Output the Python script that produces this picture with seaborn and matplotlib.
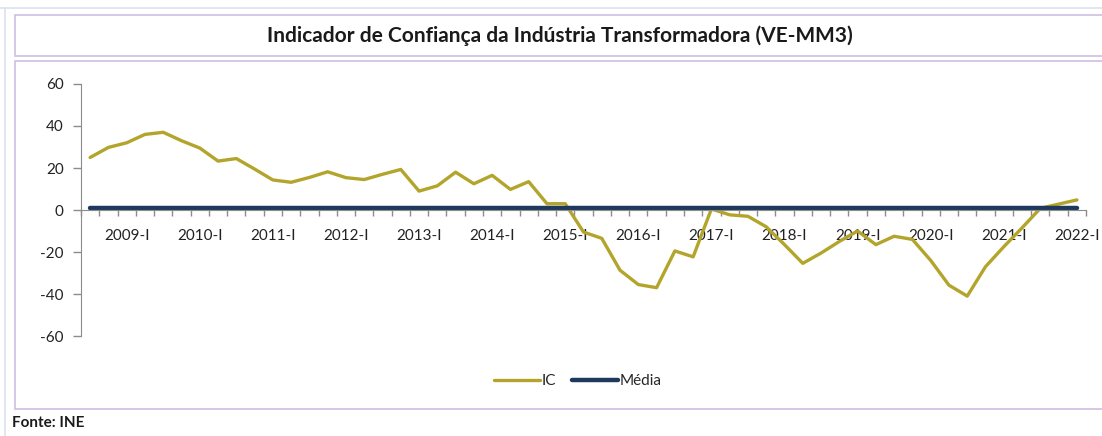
import numpy as np
import pandas as pd
import matplotlib
matplotlib.use("Agg")
import matplotlib.pyplot as plt
from matplotlib.patches import Rectangle
from matplotlib.lines import Line2D
import seaborn as sns

# quarterly series 2008-III .. 2022-I
years = list(range(2008, 2023))
roman = ["I", "II", "III", "IV"]
quarters = [f"{y}-{q}" for y in years for q in roman][2:57]

ic = [25.0, 29.8, 32.0, 36.0, 37.0, 33.0, 29.5, 23.3, 24.5, 19.5,
      14.3, 13.2, 15.5, 18.2, 15.4, 14.5, 17.0, 19.3, 9.0, 11.5,
      18.0, 12.5, 16.5, 9.8, 13.5, 3.0, 3.0, -10.5, -13.5, -28.7,
      -35.5, -37.0, -19.5, -22.3, 0.5, -2.3, -3.0, -8.0, -16.5, -25.4,
      -20.5, -15.0, -10.0, -16.5, -12.5, -14.0, -24.0, -35.8, -41.0, -27.0,
      -17.5, -8.5, 0.8, 2.8, 4.8]
media_value = 1.0

yticks = [-60, -40, -20, 0, 20, 40, 60]
labelled = [q for q in quarters if q.endswith("-I")]

title = "Indicador de Confiança da Indústria Transformadora (VE-MM3)"
source = "Fonte: INE"

IC_COLOR = "#B3A52B"
MEDIA_COLOR = "#1E395B"
BORDER = "#CDBFE0"

sns.set_style("white")
plt.rcParams["font.family"] = ["Lato", "DejaVu Sans"]

df = pd.DataFrame({
    "pos": np.arange(len(quarters)),
    "quarter": quarters,
    "IC": ic,
    "Média": [media_value] * len(quarters),
})

W, H = 1102, 436
fig = plt.figure(figsize=(W / 100, H / 100), dpi=100)

# page edges and the two framed boxes (behind the axes)
fig.add_artist(Line2D([0, 1], [1 - 8 / H, 1 - 8 / H], transform=fig.transFigure,
                      color="#DCE3EE", lw=1.2, zorder=-10))
fig.add_artist(Line2D([5 / W, 5 / W], [0, 1 - 8 / H], transform=fig.transFigure,
                      color="#DCE3EE", lw=1.2, zorder=-10))
fig.add_artist(Rectangle((15 / W, 1 - 56 / H), 1.0, 41 / H, transform=fig.transFigure,
                         facecolor="white", edgecolor=BORDER, lw=1.2, zorder=-10))
fig.add_artist(Rectangle((15 / W, 1 - 409 / H), 1.0, 348 / H, transform=fig.transFigure,
                         facecolor="white", edgecolor=BORDER, lw=1.2, zorder=-10))

fig.text(560 / W, 1 - 36 / H, title, ha="center", va="center",
         fontsize=15, fontweight="bold", color="#1a1a1a")
fig.text(12 / W, 1 - 423 / H, source, ha="left", va="center",
         fontsize=11, fontweight="bold", color="#1a1a1a")

ax = fig.add_axes([81 / W, 100 / H, (1086 - 81) / W, 252 / H])
ax.set_facecolor("none")

sns.lineplot(data=df, x="pos", y="IC", ax=ax, color=IC_COLOR, lw=2.4, label="IC")
sns.lineplot(data=df, x="pos", y="Média", ax=ax, color=MEDIA_COLOR, lw=3.2, label="Média")

ax.set_xlim(-0.5, len(quarters) - 0.5)
ax.set_ylim(-60, 60)
ax.set_xlabel("")
ax.set_ylabel("")

for side in ["top", "right"]:
    ax.spines[side].set_visible(False)
ax.spines["left"].set_color("#8C8C8C")
ax.spines["bottom"].set_color("#8C8C8C")
ax.spines["bottom"].set_position(("data", 0))

ax.set_yticks(yticks)
ax.set_yticklabels([str(v) for v in yticks])
ax.tick_params(axis="y", direction="out", length=5.5, width=1, color="#8C8C8C",
               pad=7, labelsize=11, labelcolor="#222222", left=True)

ax.set_xticks(np.arange(-0.5, len(quarters), 1))
ax.set_xticklabels([])
ax.tick_params(axis="x", which="major", direction="out", length=4, width=1,
               color="#8C8C8C", bottom=True)
ax.set_xticks([quarters.index(q) for q in labelled], minor=True)
ax.set_xticklabels(labelled, minor=True)
ax.tick_params(axis="x", which="minor", length=0, pad=14, labelsize=11,
               labelcolor="#222222")

ax.get_legend().remove()
handles, labels = ax.get_legend_handles_labels()
fig.legend(handles, labels, loc="center", bbox_to_anchor=(578 / W, 1 - 381 / H),
           ncol=2, frameon=False, fontsize=11, handlelength=3.0,
           handletextpad=0.15, columnspacing=1.0)

fig.savefig("out.png", dpi=100)
